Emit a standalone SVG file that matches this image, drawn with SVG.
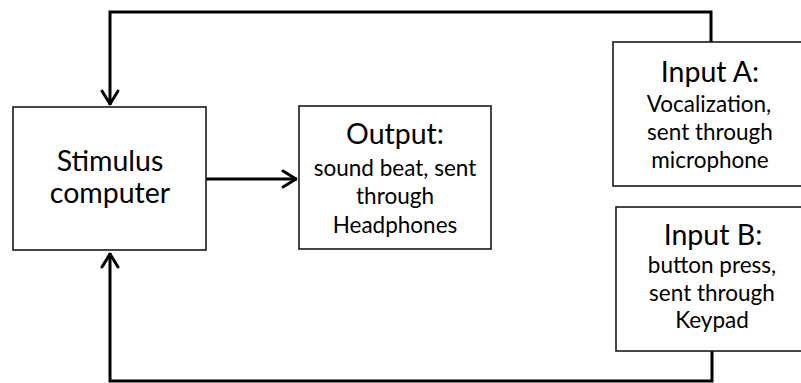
<svg xmlns="http://www.w3.org/2000/svg" width="801" height="383" viewBox="0 0 801 383">
  <defs>
    <style>
      .box { fill: #ffffff; stroke: #1a1a1a; stroke-width: 1.6; }
      .link { fill: none; stroke: #000000; stroke-width: 3; stroke-linejoin: miter; }
      .title { font-family: Lato, "Liberation Sans", sans-serif; font-size: 28.5px; fill: #000000; text-anchor: middle; }
      .sub { font-family: Lato, "Liberation Sans", sans-serif; font-size: 22.5px; fill: #000000; text-anchor: middle; }
    </style>
    <marker id="open-arrow" markerUnits="userSpaceOnUse" markerWidth="24" markerHeight="24" viewBox="-20 -12 24 24" refX="0" refY="0" orient="auto">
      <polyline points="-14,-8 -1,0 -14,8" fill="none" stroke="#000000" stroke-width="3" stroke-linejoin="round" stroke-linecap="round"/>
    </marker>
  </defs>

  <!-- connectors -->
  <g id="connectors">
    <path class="link" d="M711,42 V12 H110 V105" marker-end="url(#open-arrow)"/>
    <path class="link" d="M206,179 H297" marker-end="url(#open-arrow)"/>
    <path class="link" d="M712,351 V381 H110 V253" marker-end="url(#open-arrow)"/>
  </g>

  <!-- stimulus computer -->
  <g id="stimulus">
    <rect class="box" x="13" y="107" width="193" height="143"/>
    <text class="title" x="110" y="171">Stimulus</text>
    <text class="title" x="110" y="203">computer</text>
  </g>

  <!-- output -->
  <g id="output">
    <rect class="box" x="299" y="106" width="192" height="143"/>
    <text class="title" x="395" y="144">Output:</text>
    <text class="sub" x="395" y="176">sound beat, sent</text>
    <text class="sub" x="395" y="204">through</text>
    <text class="sub" x="395" y="233">Headphones</text>
  </g>

  <!-- input A -->
  <g id="input-a">
    <rect class="box" x="613" y="42" width="200" height="144"/>
    <text class="title" x="710" y="82">Input A:</text>
    <text class="sub" x="709" y="112">Vocalization,</text>
    <text class="sub" x="710" y="140">sent through</text>
    <text class="sub" x="710" y="168">microphone</text>
  </g>

  <!-- input B -->
  <g id="input-b">
    <rect class="box" x="616" y="207" width="200" height="144"/>
    <text class="title" x="713" y="245">Input B:</text>
    <text class="sub" x="712" y="273">button press,</text>
    <text class="sub" x="712" y="301">sent through</text>
    <text class="sub" x="712" y="328">Keypad</text>
  </g>
</svg>
